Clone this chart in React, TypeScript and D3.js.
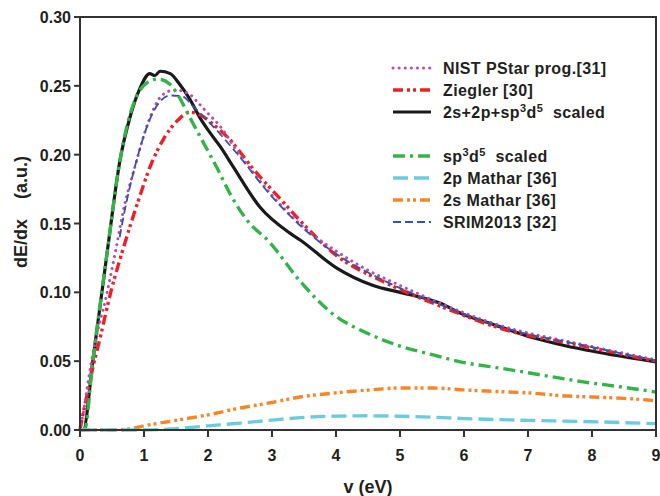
import React from 'react';
import * as d3 from 'd3';

const width = 660;
const height = 496;
const margin = { left: 80, right: 4, top: 17, bottom: 66 };

// energies (eV) and stopping values, one pair of arrays per curve
const totalV = [0, 0.05, 0.2, 0.43, 0.625, 0.78, 0.94, 1.09, 1.17, 1.25, 1.41, 1.56, 1.72, 1.875, 2.03, 2.19, 2.39, 2.81, 3.28, 3.44, 4.0, 4.58, 5.0, 5.63, 5.94, 6.5, 7.08, 7.6, 8.33, 9];
const totalY = [0, 0, 0.05, 0.131, 0.196, 0.227, 0.2485, 0.2589, 0.2575, 0.2606, 0.2589, 0.2509, 0.24, 0.2267, 0.216, 0.206, 0.1915, 0.162, 0.143, 0.138, 0.118, 0.105, 0.1, 0.092, 0.085, 0.076, 0.067, 0.061, 0.0545, 0.0495];

const spdV = [0, 0.07, 0.2, 0.43, 0.625, 0.86, 1.04, 1.22, 1.41, 1.54, 1.72, 1.875, 2.03, 2.14, 2.34, 2.6, 2.97, 3.44, 3.96, 4.48, 5.0, 5.52, 6.0, 6.56, 7.2, 7.86, 8.5, 9];
const spdY = [0, 0, 0.05, 0.131, 0.196, 0.24, 0.252, 0.255, 0.251, 0.2425, 0.2267, 0.2133, 0.2, 0.1905, 0.172, 0.153, 0.136, 0.108, 0.084, 0.0705, 0.061, 0.0545, 0.049, 0.045, 0.04, 0.035, 0.031, 0.0276];

const zieglerV = [0, 0.04, 0.094, 0.17, 0.33, 0.48, 0.67, 0.9, 1.12, 1.3, 1.51, 1.72, 1.875, 2.08, 2.34, 2.7, 3.125, 3.44, 4.0, 4.73, 5.63, 6.56, 7.86, 9];
const zieglerY = [0, 0.01, 0.022, 0.039, 0.07, 0.1, 0.131, 0.165, 0.194, 0.211, 0.2242, 0.2308, 0.229, 0.222, 0.211, 0.19, 0.168, 0.152, 0.127, 0.108, 0.09, 0.074, 0.061, 0.05];

const nistV = [0, 0.05, 0.14, 0.22, 0.41, 0.56, 0.68, 0.86, 1.07, 1.28, 1.48, 1.72, 1.84, 2.0, 2.19, 2.45, 2.97, 3.5, 4.0, 4.5, 5.0, 5.63, 6.56, 7.86, 9];
const nistY = [0, 0.012, 0.039, 0.06, 0.097, 0.131, 0.16, 0.1915, 0.224, 0.243, 0.247, 0.2436, 0.238, 0.23, 0.2206, 0.203, 0.172, 0.147, 0.13, 0.116, 0.105, 0.092, 0.076, 0.062, 0.051];

const srimV = [0.62, 0.68, 0.885, 1.15, 1.41, 1.59, 1.77, 2.03, 2.45, 2.97, 3.5, 4.0, 4.73, 5.63, 6.56, 7.86, 9];
const srimY = [0.14, 0.155, 0.196, 0.2315, 0.243, 0.2425, 0.235, 0.223, 0.201, 0.171, 0.146, 0.128, 0.109, 0.091, 0.075, 0.0615, 0.0505];

const mathar2sV = [0, 0.5, 0.8, 1.0, 1.5, 2.0, 2.5, 3.0, 3.44, 4.0, 4.5, 5.0, 5.5, 6.05, 6.5, 7.0, 7.6, 8.0, 8.5, 9];
const mathar2sY = [0, 0, 0.001, 0.003, 0.007, 0.011, 0.016, 0.02, 0.024, 0.027, 0.029, 0.0305, 0.0305, 0.029, 0.028, 0.027, 0.0247, 0.024, 0.023, 0.0213];

const mathar2pV = [0, 1.0, 1.5, 2.0, 2.5, 3.0, 3.5, 4.0, 4.5, 5.0, 5.5, 6.0, 7.0, 8.0, 9.0];
const mathar2pY = [0, 0, 0.001, 0.003, 0.005, 0.0072, 0.0092, 0.0101, 0.0103, 0.01, 0.0093, 0.0083, 0.007, 0.006, 0.0046];

const xTicks = [0, 1, 2, 3, 4, 5, 6, 7, 8, 9];
const yTicks = [0, 0.05, 0.1, 0.15, 0.2, 0.25, 0.3];

const font = "'Liberation Sans', Arial, sans-serif";
const ink = '#231f20';

type Curve = {
  key: string;
  v: number[];
  y: number[];
  color: string;
  w: number;
  dash: string;
  cap: 'butt' | 'round';
};

const curves: Curve[] = [
  { key: 'total', v: totalV, y: totalY, color: '#1a1a1a', w: 3.2, dash: 'none', cap: 'butt' },
  { key: 'ziegler', v: zieglerV, y: zieglerY, color: '#ec2027', w: 3.4, dash: '10,4,3,3,3,4', cap: 'butt' },
  { key: 'nist', v: nistV, y: nistY, color: '#b94ea8', w: 3, dash: '0.1,6', cap: 'round' },
  { key: 'srim', v: srimV, y: srimY, color: '#3953a4', w: 1.8, dash: '8,4', cap: 'butt' },
  { key: 'spd', v: spdV, y: spdY, color: '#35b34a', w: 3.4, dash: '12,5,3,5', cap: 'butt' },
  { key: '2s', v: mathar2sV, y: mathar2sY, color: '#f7862a', w: 3.4, dash: '10,4,3,3,3,4', cap: 'butt' },
  { key: '2p', v: mathar2pV, y: mathar2pY, color: '#6dcbdc', w: 3.4, dash: '15,6', cap: 'butt' },
];

const legendTop = [
  { key: 'nist', label: ['NIST PStar prog.[31]'] },
  { key: 'ziegler', label: ['Ziegler [30]'] },
  { key: 'total', label: ['2s+2p+sp', '3', 'd', '5', '  scaled'] },
];
const legendBottom = [
  { key: 'spd', label: ['sp', '3', 'd', '5', '  scaled'] },
  { key: '2p', label: ['2p Mathar [36]'] },
  { key: '2s', label: ['2s Mathar [36]'] },
  { key: 'srim', label: ['SRIM2013 [32]'] },
];

const x = d3.scaleLinear().domain([0, 9]).range([margin.left, width - margin.right]);
const y = d3.scaleLinear().domain([0, 0.3]).range([height - margin.bottom, margin.top]);

const LegendText = ({ parts, xPos, yPos }: { parts: string[]; xPos: number; yPos: number }) => (
  <text x={xPos} y={yPos} fontSize={16} fontWeight="bold" fontFamily={font} fill={ink}
    letterSpacing={0.4} style={{ whiteSpace: 'pre' }}>
    {parts.map((p, i) =>
      i % 2 === 1 ? (
        <tspan key={i} fontSize={11} dy={-6}>{p}</tspan>
      ) : (
        <tspan key={i} dy={i === 0 ? 0 : 6}>{p}</tspan>
      )
    )}
  </text>
);

export default function App() {
  const line = d3.line<[number, number]>().x(d => x(d[0])).y(d => y(d[1])).curve(d3.curveMonotoneX);
  const byKey = Object.fromEntries(curves.map(c => [c.key, c]));
  const y0 = y(0);
  const rowsTop = [68, 90, 112];
  const rowsBottom = [156, 178, 200, 222];

  const legendRow = (item: { key: string; label: string[] }, ry: number) => {
    const c = byKey[item.key];
    return (
      <g key={item.key}>
        <line x1={393} x2={431} y1={ry} y2={ry} stroke={c.color} strokeWidth={c.w}
          strokeDasharray={c.dash} strokeLinecap={c.cap} />
        <LegendText parts={item.label} xPos={443} yPos={ry + 6} />
      </g>
    );
  };

  return (
    <svg width={width} height={height} style={{ position: 'absolute', left: 0, top: 0, background: '#fff' }}>
      {curves.map(c => (
        <path key={c.key} d={line(c.v.map((v, i) => [v, c.y[i]] as [number, number])) || ''}
          fill="none" stroke={c.color} strokeWidth={c.w} strokeDasharray={c.dash}
          strokeLinecap={c.cap} strokeLinejoin="round" />
      ))}

      {/* frame */}
      <rect x={x(0)} y={y(0.3)} width={x(9) - x(0)} height={y0 - y(0.3)} fill="none" stroke="#333" strokeWidth={2} />

      {xTicks.map(t => (
        <g key={'x' + t}>
          <line x1={x(t)} x2={x(t)} y1={y0} y2={y0 + 7} stroke="#333" strokeWidth={2} />
          <text x={x(t)} y={y0 + 31} textAnchor="middle" fontSize={16} fontWeight="bold" fontFamily={font} fill={ink}>{t}</text>
        </g>
      ))}
      {yTicks.map(t => (
        <g key={'y' + t}>
          <line x1={x(0) - 6} x2={x(0)} y1={y(t)} y2={y(t)} stroke="#333" strokeWidth={2} />
          <text x={x(0) - 9} y={y(t) + 6} textAnchor="end" fontSize={16} fontWeight="bold" fontFamily={font} fill={ink}>{d3.format('.2f')(t)}</text>
        </g>
      ))}

      <text x={(x(0) + x(9)) / 2} y={493} textAnchor="middle" fontSize={18} fontWeight="bold" fontFamily={font} fill={ink}>v (eV)</text>
      <text transform="translate(27,212) rotate(-90)" textAnchor="middle" fontSize={18} fontWeight="bold"
        fontFamily={font} fill={ink} style={{ whiteSpace: 'pre' }}>{'dE/dx    (a.u.)'}</text>

      {legendTop.map((item, i) => legendRow(item, rowsTop[i]))}
      {legendBottom.map((item, i) => legendRow(item, rowsBottom[i]))}
    </svg>
  );
}
